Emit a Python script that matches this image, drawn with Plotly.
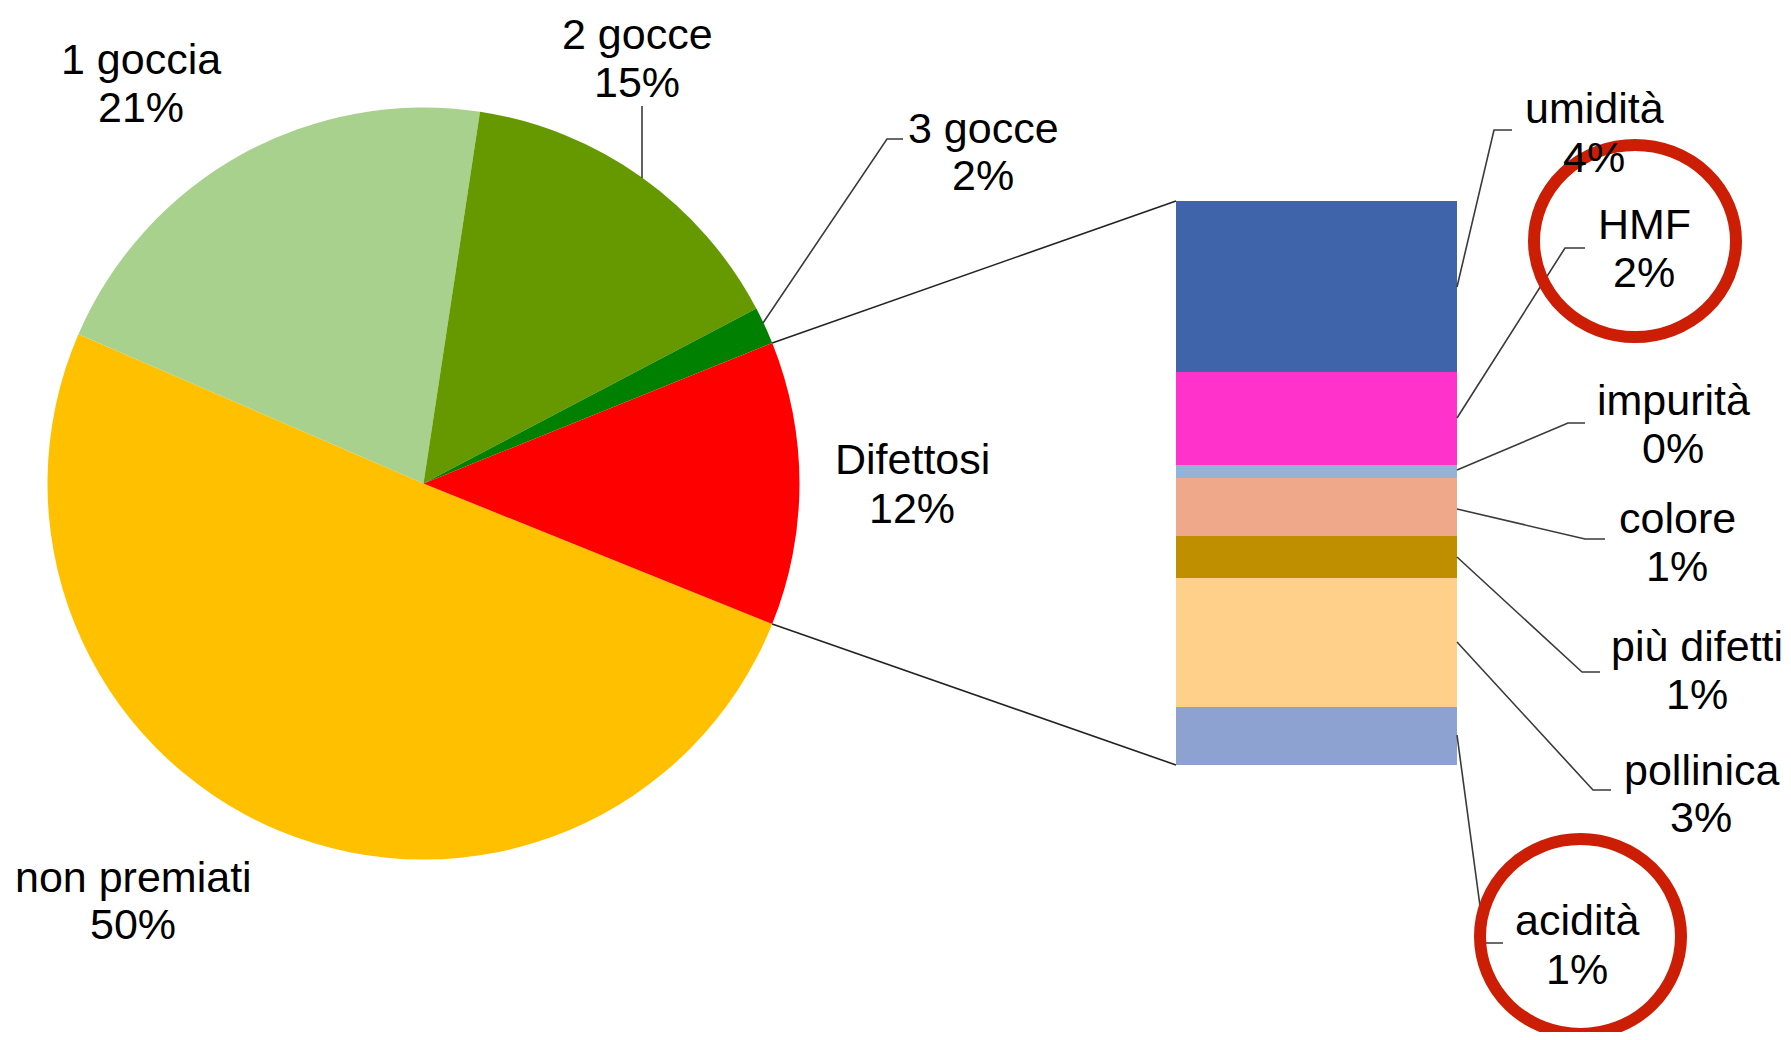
import plotly.graph_objects as go
import math

# ---------------- data ----------------
pie_labels = ["non premiati", "1 goccia", "2 gocce", "3 gocce", "Difettosi"]
pie_values = [50.4, 20.9, 14.9, 1.6, 12.2]
pie_colors = ["#FFC000", "#A9D18E", "#669900", "#008000", "#FF0000"]

sub_labels = ["umidità", "HMF", "impurità", "colore", "più difetti", "pollinica", "acidità"]
sub_values = [3.7, 2.0, 0.3, 1.25, 0.9, 2.8, 1.25]
sub_colors = ["#3F64A9", "#FF33CC", "#95B3D7", "#F0A88A", "#BF8F00", "#FFD08A", "#8EA2D2"]

# ---------------- layout helpers (pixel -> paper) ----------------
W, H, OFF = 1775, 1024, 8
def px(x):
    return (x - OFF) / W
def py(y):
    return 1 - (y - OFF) / H

FONT = "Liberation Sans, Arial, sans-serif"
FS = 43

# pie geometry
cx, cy, r = 423.5, 483.5, 376
# bar geometry
bx0, bx1, by0, by1 = 1176, 1457, 201, 765

fig = go.Figure()

d_share = pie_values[-1] / sum(pie_values)
rotation = 90 + d_share * 180  # centre the "Difettosi" slice at 3 o'clock

fig.add_trace(go.Pie(
    labels=pie_labels, values=pie_values, sort=False, direction="clockwise",
    rotation=rotation, marker=dict(colors=pie_colors, line=dict(width=0)),
    textinfo="none", hoverinfo="label+percent", showlegend=False,
    domain=dict(x=[px(cx - r), px(cx + r)], y=[py(cy + r), py(cy - r)]),
))

# stacked bar (bottom first)
for lab, val, col in reversed(list(zip(sub_labels, sub_values, sub_colors))):
    fig.add_trace(go.Bar(x=[0], y=[val], name=lab, width=1,
                         marker=dict(color=col, line=dict(width=0)),
                         showlegend=False, xaxis="x", yaxis="y"))

total_sub = sum(sub_values)
fig.update_layout(
    width=W, height=H, margin=dict(l=0, r=0, t=0, b=0),
    paper_bgcolor="white", plot_bgcolor="rgba(0,0,0,0)",
    barmode="stack", bargap=0,
    xaxis=dict(domain=[px(bx0), px(bx1)], range=[-0.5, 0.5], visible=False, fixedrange=True),
    yaxis=dict(domain=[py(by1), py(by0)], range=[0, total_sub], visible=False, fixedrange=True),
    font=dict(family=FONT, color="#000000"),
)

shapes = []
def seg(pts, color="#3A3A3A", w=1.6):
    path = "M " + " L ".join(f"{px(x)},{py(y)}" for x, y in pts)
    shapes.append(dict(type="path", path=path, xref="paper", yref="paper",
                       line=dict(color=color, width=w)))

# connector lines pie -> bar (edges of Difettosi slice)
half = d_share * math.pi
top_pt = (cx + r * math.cos(half), cy - r * math.sin(half))
bot_pt = (cx + r * math.cos(half), cy + r * math.sin(half))
seg([top_pt, (bx0, by0)], color="#222222", w=1.6)
seg([bot_pt, (bx0, by1)], color="#222222", w=1.6)

# leader lines
seg([(642, 178), (642, 106)])
seg([(763, 323), (887, 139), (903, 139)])
seg([(1457, 287), (1494, 130), (1512, 130)])
seg([(1457, 418), (1565, 248), (1585, 248)])
seg([(1457, 470), (1568, 423), (1585, 423)])
seg([(1457, 509), (1585, 539), (1605, 539)])
seg([(1457, 557), (1582, 672), (1600, 672)])
seg([(1457, 642), (1593, 790), (1611, 790)])
seg([(1457, 735), (1485, 943), (1503, 943)])

# red highlight ellipses
for (x0, y0, x1, y1) in [(1534, 145, 1736, 337), (1480, 839, 1681, 1034)]:
    shapes.append(dict(type="circle", xref="paper", yref="paper",
                       x0=px(x0), x1=px(x1), y0=py(y1), y1=py(y0),
                       line=dict(color="#CC1E05", width=12)))

# label positions (centre of each text line) in pixels
pie_label_pos = [((133, 877), (133, 924)), ((141, 59), (141, 107)), ((637, 34), (637, 82)),
                 ((983, 128), (983, 175)), ((912, 459), (912, 508))]
sub_label_pos = [((1594, 108), (1594, 157)), ((1644, 224), (1644, 272)), ((1673, 400), (1673, 448)),
                 ((1677, 518), (1677, 566)), ((1697, 646), (1697, 694)), ((1701, 770), (1701, 817)),
                 ((1577, 920), (1577, 969))]

annotations = []
def lab(text, x, y):
    annotations.append(dict(text=text, x=px(x), y=py(y), xref="paper", yref="paper",
                            showarrow=False, xanchor="center", yanchor="middle",
                            font=dict(family=FONT, size=FS, color="#000000")))

tot = sum(pie_values)
for name, v, (p1, p2) in zip(pie_labels, pie_values, pie_label_pos):
    lab(name, *p1)
    lab(f"{100 * v / tot:.0f}%", *p2)
for name, v, (p1, p2) in zip(sub_labels, sub_values, sub_label_pos):
    lab(name, *p1)
    lab(f"{100 * v / tot:.0f}%", *p2)

# draw the red circles above the text (as in the reference)
fig.update_layout(shapes=shapes, annotations=annotations)
for s in fig.layout.shapes:
    pass

fig.write_html("out.html")
